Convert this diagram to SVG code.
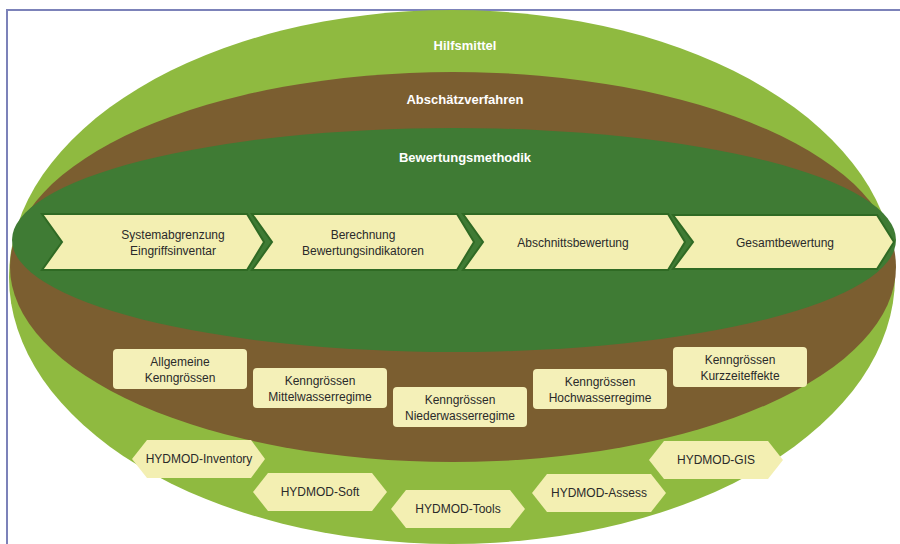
<svg xmlns="http://www.w3.org/2000/svg" width="900" height="544" viewBox="0 0 900 544">
  <style>
    .hdr { font-family: "Liberation Sans", Arial, sans-serif; font-size: 13px; font-weight: bold; fill: #ffffff; text-anchor: middle; }
    .lbl { font-family: "Liberation Sans", Arial, sans-serif; font-size: 12px; fill: #2a2a2a; text-anchor: middle; }
    .chev { fill: #f3efb2; stroke: #2f6a24; stroke-width: 2; stroke-linejoin: miter; }
    .box { fill: #f4f0b8; }
    .hex { fill: #f3efb2; }
  </style>
  <rect x="0" y="0" width="900" height="544" fill="#ffffff"/>
  <!-- frame -->
  <g id="frame" fill="none" stroke="#7c82b9" stroke-width="2">
    <line x1="6" y1="10" x2="900" y2="10"/>
    <line x1="7" y1="10" x2="7" y2="544"/>
  </g>
  <!-- layers -->
  <g id="layer-hilfsmittel">
    <ellipse cx="452" cy="277" rx="443" ry="267" fill="#8fba40"/>
    <text class="hdr" x="465" y="50">Hilfsmittel</text>
  </g>
  <g id="layer-abschaetzverfahren">
    <ellipse cx="453" cy="267" rx="443" ry="195" fill="#7b5e30"/>
    <text class="hdr" x="465" y="104">Abschätzverfahren</text>
  </g>
  <g id="layer-bewertungsmethodik">
    <ellipse cx="454" cy="240" rx="442" ry="112" fill="#3f7b34"/>
    <text class="hdr" x="465" y="162">Bewertungsmethodik</text>
  </g>
  <!-- process chevrons -->
  <g id="connectors"></g>
  <g id="step1">
    <path class="chev" d="M42,214 H247 L264,242 L247,270 H42 L62,242 Z"/>
    <text class="lbl" x="173" y="239">Systemabgrenzung</text>
    <text class="lbl" x="173" y="255">Eingriffsinventar</text>
  </g>
  <g id="step2">
    <path class="chev" d="M252,214 H457 L474,242 L457,270 H252 L272,242 Z"/>
    <text class="lbl" x="363" y="239">Berechnung</text>
    <text class="lbl" x="363" y="255">Bewertungsindikatoren</text>
  </g>
  <g id="step3">
    <path class="chev" d="M463,214 H668 L685,242 L668,270 H463 L483,242 Z"/>
    <text class="lbl" x="573" y="247">Abschnittsbewertung</text>
  </g>
  <g id="step4">
    <path class="chev" d="M673,215 H877 L894,242 L877,269 H673 L693,242 Z"/>
    <text class="lbl" x="785" y="247">Gesamtbewertung</text>
  </g>
  <!-- Kenngrössen boxes -->
  <g id="box-allgemein">
    <rect class="box" x="113" y="349" width="134" height="40" rx="4"/>
    <text class="lbl" x="180" y="366">Allgemeine</text>
    <text class="lbl" x="180" y="382">Kenngrössen</text>
  </g>
  <g id="box-mittelwasser">
    <rect class="box" x="253" y="368" width="134" height="40" rx="4"/>
    <text class="lbl" x="320" y="385">Kenngrössen</text>
    <text class="lbl" x="320" y="401">Mittelwasserregime</text>
  </g>
  <g id="box-niederwasser">
    <rect class="box" x="393" y="387" width="134" height="40" rx="4"/>
    <text class="lbl" x="460" y="404">Kenngrössen</text>
    <text class="lbl" x="460" y="420">Niederwasserregime</text>
  </g>
  <g id="box-hochwasser">
    <rect class="box" x="533" y="369" width="134" height="40" rx="4"/>
    <text class="lbl" x="600" y="386">Kenngrössen</text>
    <text class="lbl" x="600" y="402">Hochwasserregime</text>
  </g>
  <g id="box-kurzzeit">
    <rect class="box" x="673" y="347" width="134" height="40" rx="4"/>
    <text class="lbl" x="740" y="364">Kenngrössen</text>
    <text class="lbl" x="740" y="380">Kurzzeiteffekte</text>
  </g>
  <!-- HYDMOD tools -->
  <g id="hex-inventory">
    <polygon class="hex" points="132,459 147,440 251,440 265,459 251,478 147,478"/>
    <text class="lbl" x="199" y="463">HYDMOD-Inventory</text>
  </g>
  <g id="hex-soft">
    <polygon class="hex" points="253,492 268,473 372,473 387,492 372,511 268,511"/>
    <text class="lbl" x="320" y="496">HYDMOD-Soft</text>
  </g>
  <g id="hex-tools">
    <polygon class="hex" points="391,509 406,490 510,490 525,509 510,528 406,528"/>
    <text class="lbl" x="458" y="513">HYDMOD-Tools</text>
  </g>
  <g id="hex-assess">
    <polygon class="hex" points="532,493 547,474 651,474 666,493 651,512 547,512"/>
    <text class="lbl" x="599" y="497">HYDMOD-Assess</text>
  </g>
  <g id="hex-gis">
    <polygon class="hex" points="649,460 664,441 768,441 783,460 768,479 664,479"/>
    <text class="lbl" x="716" y="464">HYDMOD-GIS</text>
  </g>
</svg>
